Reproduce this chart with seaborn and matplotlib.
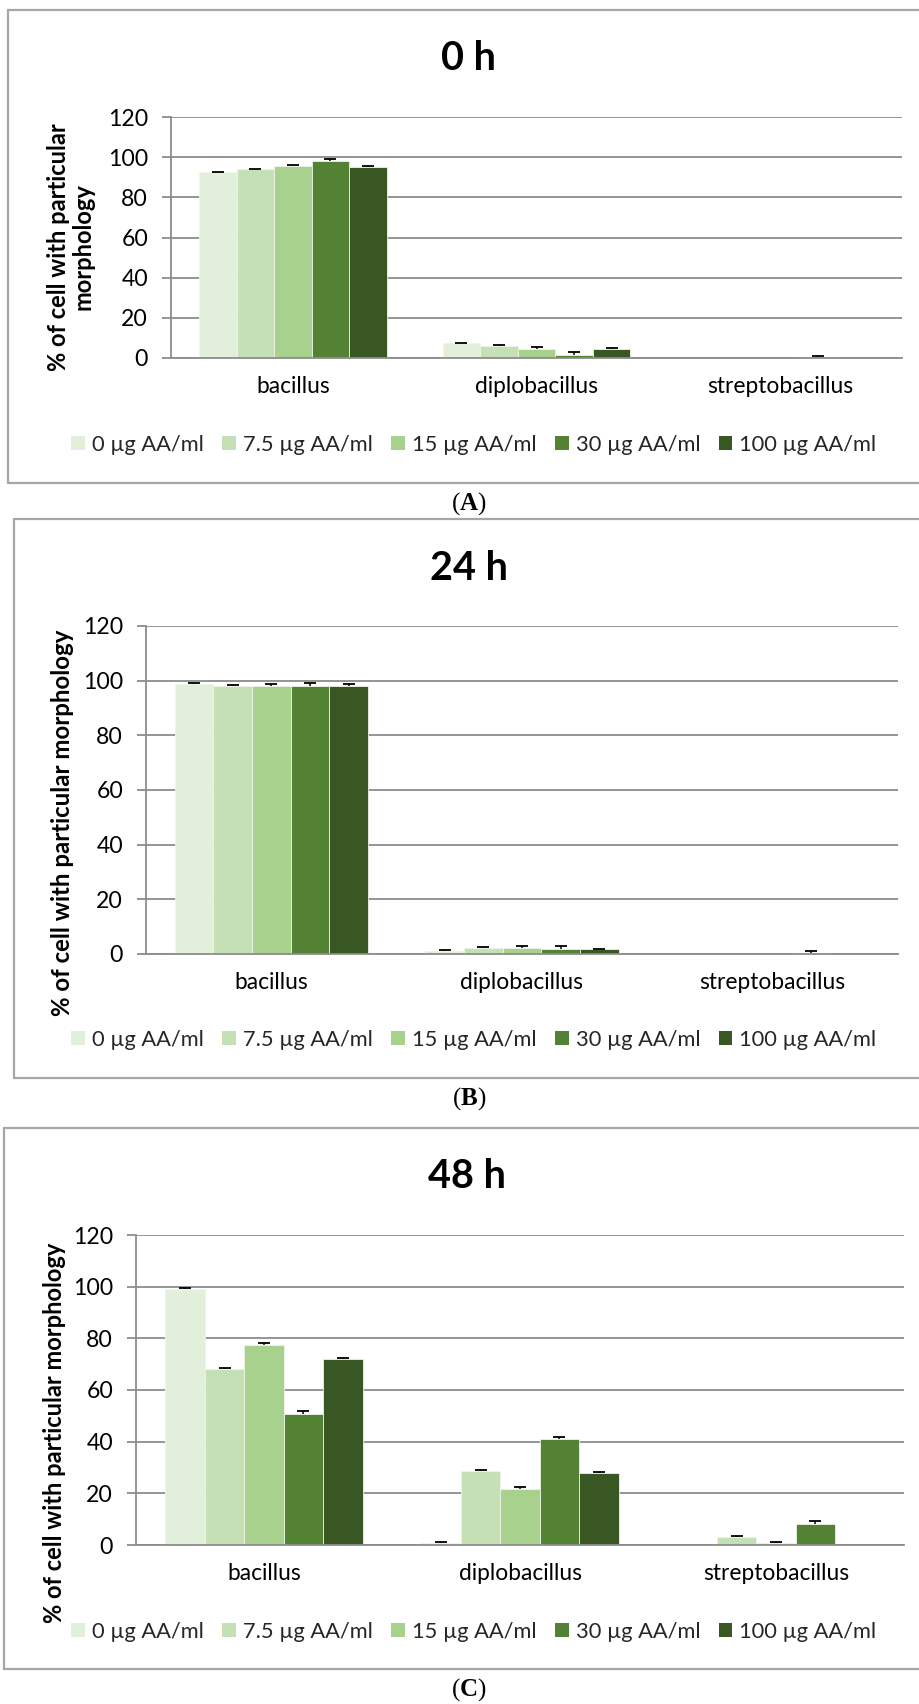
import numpy as np
import pandas as pd
import matplotlib
matplotlib.use("Agg")
import matplotlib.pyplot as plt
import seaborn as sns
from matplotlib.patches import Rectangle
from matplotlib.lines import Line2D

# ---------------- data ----------------
categories = ["bacillus", "diplobacillus", "streptobacillus"]
concentrations = ["0 µg AA/ml", "7.5 µg AA/ml", "15 µg AA/ml", "30 µg AA/ml", "100 µg AA/ml"]
titles = ["0 h", "24 h", "48 h"]
panel_letters = ["A", "B", "C"]
yticks = [0, 20, 40, 60, 80, 100, 120]
y_label = "% of cell with particular morphology"

# values per concentration (0, 7.5, 15, 30, 100 µg AA/ml)
bacillus_0h = [92.5, 94.0, 95.5, 98.0, 95.3]
diplobacillus_0h = [7.3, 6.0, 4.5, 1.7, 4.5]
streptobacillus_0h = [0.0, 0.0, 0.0, 0.3, 0.0]
bacillus_0h_err = [0.3, 0.3, 0.8, 1.0, 0.3]
diplobacillus_0h_err = [0.3, 0.3, 0.8, 1.3, 0.3]
streptobacillus_0h_err = [0.0, 0.0, 0.0, 0.5, 0.0]

bacillus_24h = [98.8, 97.9, 97.9, 98.2, 98.2]
diplobacillus_24h = [1.2, 2.1, 2.3, 1.8, 1.7]
streptobacillus_24h = [0.0, 0.0, 0.0, 0.2, 0.0]
bacillus_24h_err = [0.3, 0.5, 1.0, 1.0, 0.4]
diplobacillus_24h_err = [0.2, 0.3, 0.8, 1.0, 0.2]
streptobacillus_24h_err = [0.0, 0.0, 0.0, 0.8, 0.0]

bacillus_48h = [99.2, 68.3, 77.5, 50.7, 72.0]
diplobacillus_48h = [0.7, 28.6, 21.6, 40.9, 27.8]
streptobacillus_48h = [0.0, 3.0, 0.9, 8.3, 0.0]
bacillus_48h_err = [0.3, 0.3, 0.7, 1.1, 0.3]
diplobacillus_48h_err = [0.3, 0.3, 0.8, 1.1, 0.3]
streptobacillus_48h_err = [0.0, 0.3, 0.3, 1.1, 0.0]

colors = ["#E2EFDA", "#C5E0B4", "#A9D18E", "#548235", "#385723"]

panels_values = [
    (bacillus_0h, diplobacillus_0h, streptobacillus_0h),
    (bacillus_24h, diplobacillus_24h, streptobacillus_24h),
    (bacillus_48h, diplobacillus_48h, streptobacillus_48h),
]
panels_errors = [
    (bacillus_0h_err, diplobacillus_0h_err, streptobacillus_0h_err),
    (bacillus_24h_err, diplobacillus_24h_err, streptobacillus_24h_err),
    (bacillus_48h_err, diplobacillus_48h_err, streptobacillus_48h_err),
]

# ---------------- layout (pixels) ----------------
W, H = 920, 1704
axes_px = [(171, 902, 117, 358), (146, 898, 626, 954), (136, 904, 1235, 1545)]
boxes_px = [(8, 10, 483), (14, 519, 1078), (4, 1128, 1669)]
title_px = [(469, 58), (469, 569), (467, 1177)]
legend_px = [(474, 445), (474, 1040), (474, 1632)]
legend_len = 807
letter_px = [(469, 504), (469, 1099), (469, 1690)]
ylabel_px = [(71, 247), (63, 823), (55, 1433)]
ylabel_len = [248, 384, 381]
ylabel_text = ["% of cell with particular\nmorphology", y_label, y_label]

sns.set_theme(style="white")
plt.rcParams["font.family"] = ["Lato", "DejaVu Sans"]
plt.rcParams["mathtext.fontset"] = "custom"
plt.rcParams["mathtext.bf"] = "Liberation Serif:bold"
plt.rcParams["mathtext.rm"] = "Liberation Serif"

GRID = "#8C8C8C"
BOX = "#A6A6A6"

fig = plt.figure(figsize=(W / 100, H / 100), dpi=100)
fig.patch.set_facecolor("white")
renderer = fig.canvas.get_renderer()


def fx(x):
    return x / W


def fy(y):
    return 1 - y / H


for p in range(3):
    bac, dip, stre = panels_values[p]
    ebac, edip, estr = panels_errors[p]
    rows = []
    for ci, cat in enumerate(categories):
        series = [bac, dip, stre][ci]
        for hi, conc in enumerate(concentrations):
            rows.append({"morphology": cat, "conc": conc, "percent": series[hi]})
    df = pd.DataFrame(rows)
    errs = np.array([ebac, edip, estr])  # [category][conc]

    l, r, t, b = axes_px[p]
    ax = fig.add_axes([fx(l), fy(b), (r - l) / W, (b - t) / H])
    sns.barplot(data=df, x="morphology", y="percent", hue="conc",
                order=categories, hue_order=concentrations, palette=colors,
                width=0.77, errorbar=None, saturation=1, legend=False,
                linewidth=0.6, edgecolor="#EEF5EA", ax=ax)

    # error bars: plus direction only, single cap at the top
    bar_containers = list(ax.containers)
    for hi, cont in enumerate(bar_containers):
        for ci, bar in enumerate(cont):
            e = errs[ci][hi]
            if e > 0:
                xc = bar.get_x() + bar.get_width() / 2
                yv = bar.get_height()
                ax.errorbar(xc, yv, yerr=[[0], [e]], fmt="none", ecolor="black",
                            elinewidth=1.1, capsize=0, zorder=5)
                ax.plot([xc], [yv + e], marker="_", markersize=8.5,
                        markeredgewidth=1.3, color="black", zorder=6,
                        linestyle="none")

    ax.set_ylim(0, 120)
    ax.set_xlim(-0.5, 2.5)
    ax.set_yticks(yticks)
    ax.set_yticklabels([str(v) for v in yticks])
    ax.set_xlabel("")
    ax.set_ylabel("")
    ax.yaxis.grid(True, color=GRID, linewidth=1.3)
    ax.xaxis.grid(False)
    ax.set_axisbelow(True)
    for s in ["top", "right"]:
        ax.spines[s].set_visible(False)
    for s in ["left", "bottom"]:
        ax.spines[s].set_color(GRID)
        ax.spines[s].set_linewidth(1.3)
    ax.set_xticks([-0.5, 0.5, 1.5, 2.5], minor=True)
    ax.tick_params(axis="x", which="major", length=0, pad=13, labelsize=16.4,
                   labelcolor="black")
    ax.tick_params(axis="x", which="minor", length=6, width=1.3, color=GRID,
                   direction="out")
    ax.tick_params(axis="y", which="major", length=6.5, width=1.3, color=GRID,
                   direction="out", pad=10, labelsize=16.6, labelcolor="black",
                   left=True)
    ax.set_facecolor("white")

    tx, ty = title_px[p]
    fig.text(fx(tx), fy(ty), titles[p], ha="center", va="center",
             fontsize=28.5, fontweight="bold", color="black")

    # y label, size fitted to the reference length
    lx, ly = ylabel_px[p]
    yl = fig.text(fx(lx), fy(ly), ylabel_text[p], ha="center", va="center",
                  rotation=90, fontsize=18, fontweight="bold", color="black",
                  multialignment="center", linespacing=1.1)
    for _ in range(2):
        ext = yl.get_window_extent(renderer)
        yl.set_fontsize(yl.get_fontsize() * ylabel_len[p] / ext.height)

    # legend, size fitted to the reference width
    handles = [Rectangle((0, 0), 1, 1, facecolor=c, edgecolor="none") for c in colors]
    gx, gy = legend_px[p]
    fs = 15.8
    for _ in range(3):
        leg = fig.legend(handles, concentrations, loc="center",
                         bbox_to_anchor=(fx(gx), fy(gy)), ncol=5, frameon=False,
                         fontsize=fs, handlelength=0.62, handleheight=0.62,
                         handletextpad=0.32, columnspacing=0.85, borderpad=0,
                         borderaxespad=0)
        wpx = leg.get_window_extent(renderer).width
        if abs(wpx - legend_len) < 2:
            break
        leg.remove()
        fs = fs * legend_len / wpx

    bl, bt, bb = boxes_px[p]
    for xs, ys in [((bl, W + 5), (bt, bt)), ((bl, W + 5), (bb, bb)), ((bl, bl), (bt, bb))]:
        fig.add_artist(Line2D([fx(xs[0]), fx(xs[1])], [fy(ys[0]), fy(ys[1])],
                              transform=fig.transFigure, color=BOX, linewidth=1.6))

    px_, py_ = letter_px[p]
    fig.text(fx(px_), fy(py_), "(" + r"$\mathbf{" + panel_letters[p] + "}$" + ")",
             ha="center", va="center", fontsize=18, family="Liberation Serif",
             color="black")

fig.savefig("out.png", dpi=100, facecolor="white")
